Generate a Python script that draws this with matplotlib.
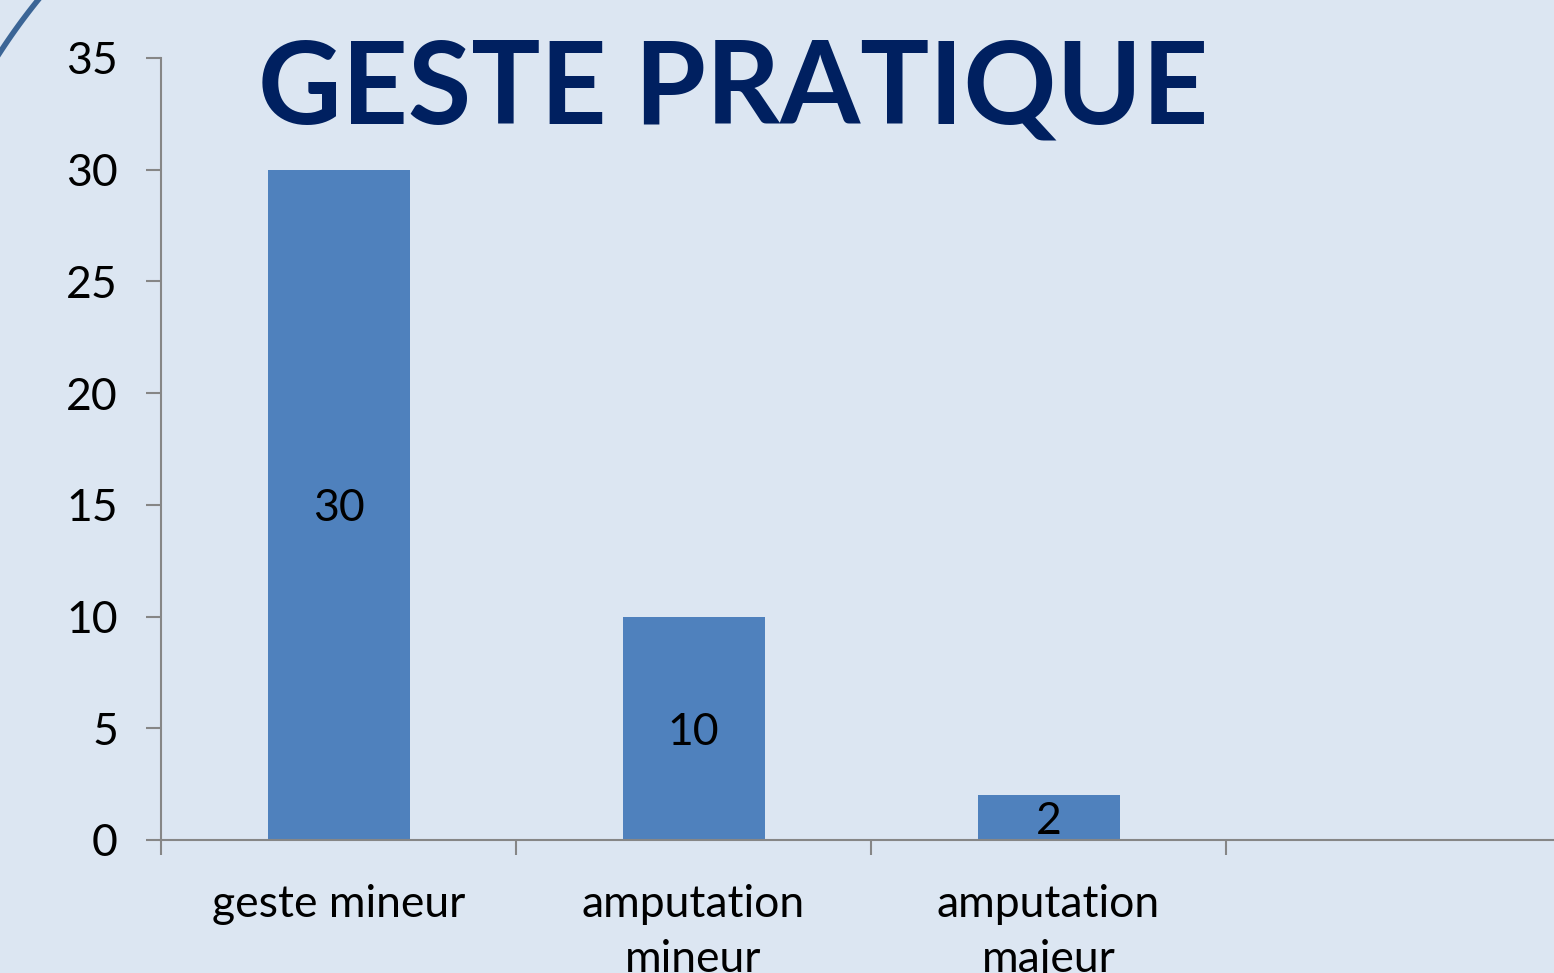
import matplotlib.pyplot as plt
import numpy as np
from matplotlib.lines import Line2D

# data
categories = ['geste mineur', 'amputation\nmineur', 'amputation\nmajeur', '']
values = [30, 10, 2]
yticks = [0, 5, 10, 15, 20, 25, 30, 35]

bg = '#DCE6F2'
bar_color = '#4F81BD'
axis_color = '#868686'
title_color = '#002060'

plt.rcParams['font.family'] = ['Lato', 'DejaVu Sans']

W, H = 1554, 973
fig = plt.figure(figsize=(W / 100, H / 100), dpi=100, facecolor=bg)

# axes: left edge at 161px, 0 at 840px, 35 at 58px, 4 category slots of 355px
ax = fig.add_axes([161 / W, 1 - 840 / H, 4 * 355 / W, (840 - 58) / H])
ax.set_facecolor(bg)

x = np.arange(len(values))
bars = ax.bar(x, values, width=0.4, color=bar_color, zorder=2)
for b, v in zip(bars, values):
    ax.text(b.get_x() + b.get_width() / 2, v / 2, str(v), ha='center', va='center_baseline',
            fontsize=32, color='black', zorder=3)

ax.set_xlim(-0.5, len(categories) - 0.5)
ax.set_ylim(0, 35)
ax.set_yticks(yticks)
ax.set_yticklabels([str(t) for t in yticks], fontsize=32)
ax.set_xticks(np.arange(len(categories)))
ax.set_xticklabels(categories, fontsize=32, linespacing=1.4)
# category boundaries ticks
ax.set_xticks(np.arange(len(categories) + 1) - 0.5, minor=True)
ax.tick_params(axis='x', which='major', length=0, pad=32)
ax.tick_params(axis='x', which='minor', length=11, width=1.5, color=axis_color, direction='out')
ax.tick_params(axis='y', length=11, width=1.5, color=axis_color, direction='out', pad=20)

for s in ['top', 'right']:
    ax.spines[s].set_visible(False)
for s in ['left', 'bottom']:
    ax.spines[s].set_color(axis_color)
    ax.spines[s].set_linewidth(1.5)

fig.text(733 / W, 1 - 124 / H, 'GESTE PRATIQUE', ha='center', va='baseline',
         fontsize=83, fontweight='bold', color=title_color)

# decorative arc in the top-left corner
cx, cy, r = 520, 390, 620
th = np.linspace(np.pi * 1.0, np.pi * 1.3, 100)
px = cx + r * np.cos(th)
py = cy + r * np.sin(th)
fig.add_artist(Line2D(px / W, 1 - py / H, color='#3B6596', lw=4, transform=fig.transFigure))

fig.savefig('out.png', dpi=100, facecolor=bg)
